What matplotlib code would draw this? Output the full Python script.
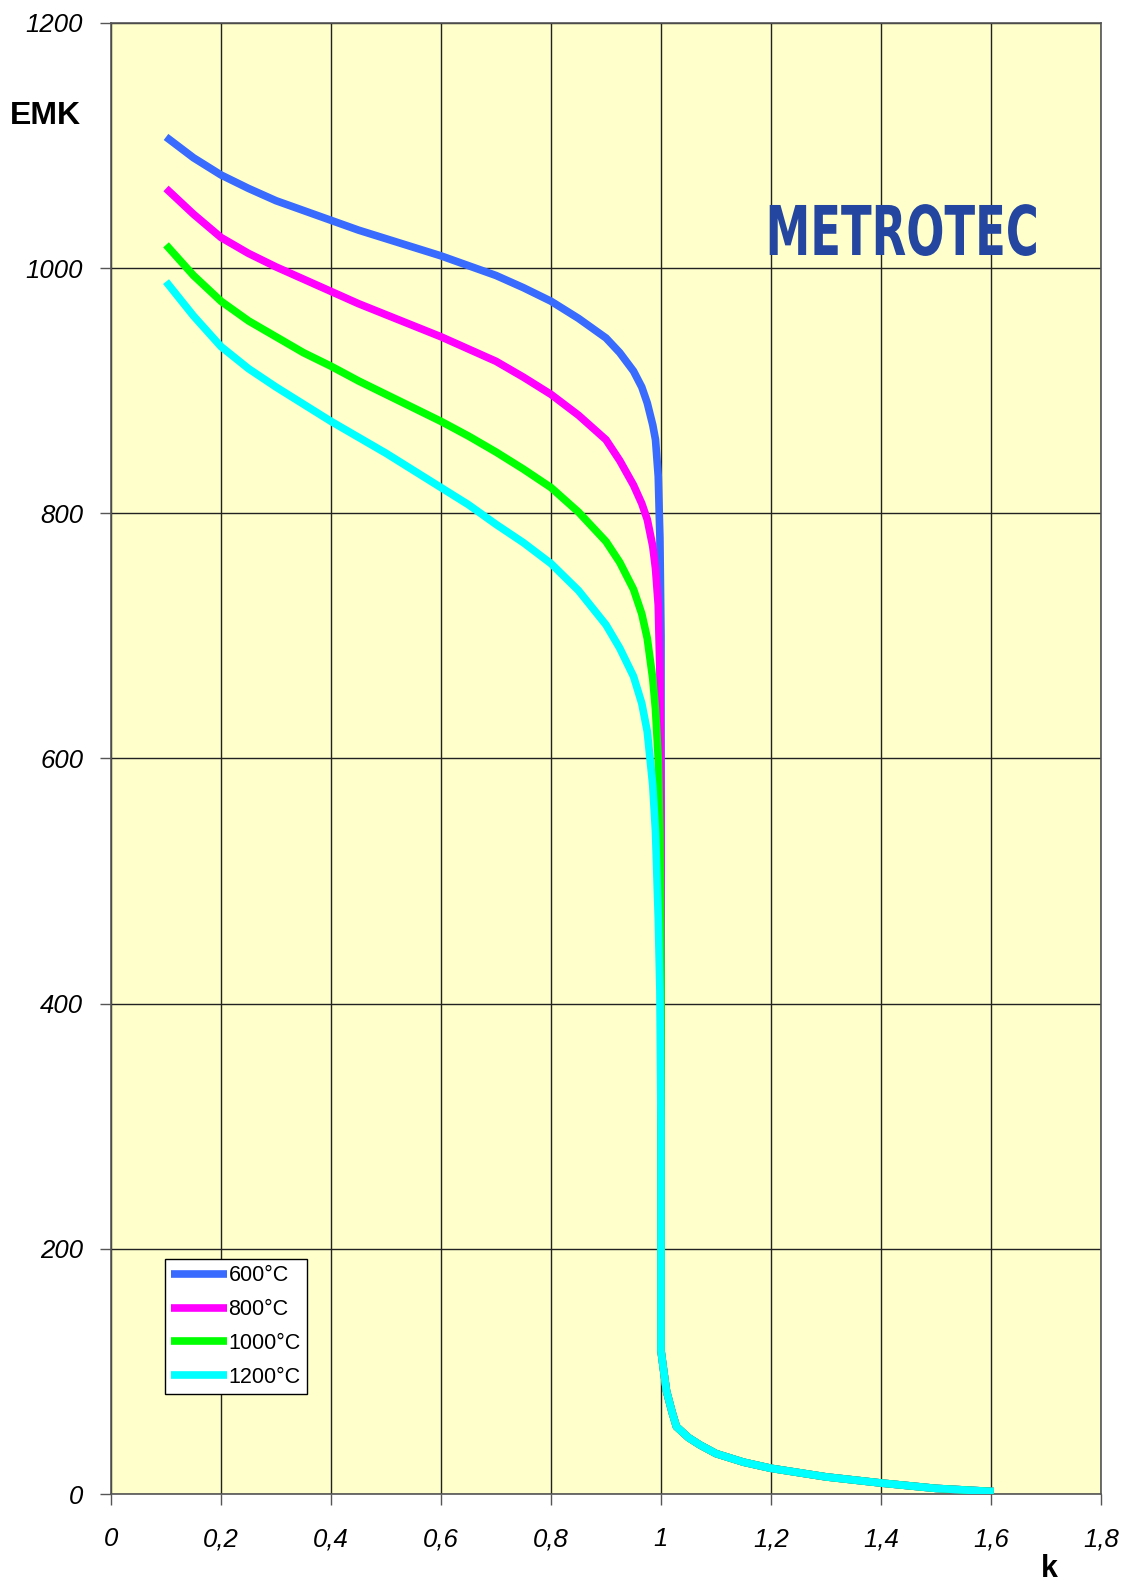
import numpy as np
import matplotlib
matplotlib.use("Agg")
import matplotlib.pyplot as plt
from matplotlib.ticker import FuncFormatter, MultipleLocator
from matplotlib.patheffects import AbstractPathEffect
from matplotlib.transforms import Affine2D

plt.rcParams['font.family'] = ['Liberation Sans', 'DejaVu Sans']

# k (lambda) values of the rich branch, shared by all curves
k_head = [0.1, 0.15, 0.2, 0.25, 0.3, 0.35, 0.4, 0.45, 0.5, 0.55, 0.6, 0.65, 0.7,
          0.75, 0.8, 0.85, 0.9, 0.925, 0.95, 0.965, 0.975, 0.985, 0.99, 0.995,
          0.998, 1.0]
emk_600 = [1107, 1090, 1076, 1065, 1055, 1047, 1039, 1031, 1024, 1017, 1010, 1002,
           994, 984, 973, 959, 943, 931, 916, 903, 890, 872, 860, 830, 780, 700]
emk_800 = [1065, 1044, 1025, 1012, 1001, 991, 981, 971, 962, 953, 944, 934,
           924, 911, 897, 880, 860, 843, 823, 808, 795, 773, 755, 725, 670, 560]
emk_1000 = [1019, 994, 973, 957, 944, 931, 920, 908, 897, 886, 875, 863,
            850, 836, 821, 801, 777, 760, 738, 718, 698, 665, 640, 600, 540, 420]
emk_1200 = [989, 961, 936, 918, 903, 889, 875, 862, 849, 835, 821, 807,
            791, 776, 759, 737, 709, 690, 667, 645, 622, 578, 540, 470, 410, 300]

# lean branch, identical for all temperatures
k_tail = [1.0, 1.005, 1.01, 1.02, 1.028, 1.05, 1.071, 1.1, 1.15, 1.2, 1.3, 1.4, 1.5, 1.605]
emk_tail = [117, 100, 84, 67, 55, 46, 40, 33, 26, 21, 14, 9, 4.6, 2]

labels = ['600°C', '800°C', '1000°C', '1200°C']
colors = ['#3A6BFF', '#FF00FF', '#00FF00', '#00FFFF']


class Squeeze(AbstractPathEffect):
    # narrow the glyphs horizontally around the text centre (condensed logo)
    def __init__(self, sx):
        super().__init__()
        self.sx = sx

    def draw_path(self, renderer, gc, tpath, affine, rgbFace=None):
        v = tpath.vertices
        cx = (v[:, 0].min() + v[:, 0].max()) / 2 if len(v) else 0
        sq = Affine2D().translate(-cx, 0).scale(self.sx, 1).translate(cx, 0)
        renderer.draw_path(gc, tpath, sq + affine, rgbFace)


fig = plt.figure(figsize=(11.26, 15.83), dpi=100)
ax = fig.add_axes([0.0986, 0.0562, 0.8792, 0.9293])
ax.set_facecolor('#FFFFCC')

for vals, lab, col in zip([emk_600, emk_800, emk_1000, emk_1200], labels, colors):
    x = list(k_head) + list(k_tail)
    y = list(vals) + list(emk_tail)
    ax.plot(x, y, color=col, lw=5.5, label=lab, solid_joinstyle='round',
            solid_capstyle='butt', zorder=3)

ax.set_xlim(0, 1.8)
ax.set_ylim(0, 1200)
ax.xaxis.set_major_locator(MultipleLocator(0.2))
ax.yaxis.set_major_locator(MultipleLocator(200))
fmt = FuncFormatter(lambda v, p: ('%g' % round(v, 2)).replace('.', ','))
ax.xaxis.set_major_formatter(fmt)
ax.yaxis.set_major_formatter(fmt)
ax.grid(True, color='#222222', lw=1)
ax.set_axisbelow(True)
for s in ax.spines.values():
    s.set_color('#555555')
    s.set_linewidth(1.2)
ax.tick_params(direction='out', length=8, width=1, color='#555555')
ax.tick_params(axis='x', pad=16)
ax.tick_params(axis='y', pad=12)
for t in ax.get_xticklabels() + ax.get_yticklabels():
    t.set_fontstyle('italic')
    t.set_fontsize(18.5)

leg = ax.legend(loc='upper left', bbox_to_anchor=(0.0545, 0.16), borderaxespad=0,
                fancybox=False, framealpha=1, edgecolor='black', fontsize=15.5,
                handlelength=2.6, handletextpad=0.05, labelspacing=0.6,
                borderpad=0.3)
leg.get_frame().set_linewidth(1)

fig.text(0.009, 0.927, 'EMK', fontsize=23, fontweight='bold', va='center', ha='left')
fig.text(0.932, 0.009, 'k', fontsize=22, fontweight='bold', va='center', ha='center')
fig.text(903 / 1126, 1 - 255 / 1583, 'METROTEC', fontsize=49.4, fontweight='bold',
         color='#2446A0', family='DejaVu Sans', va='baseline', ha='center',
         path_effects=[Squeeze(0.655)])

fig.savefig('out.png', dpi=100, facecolor='white')
